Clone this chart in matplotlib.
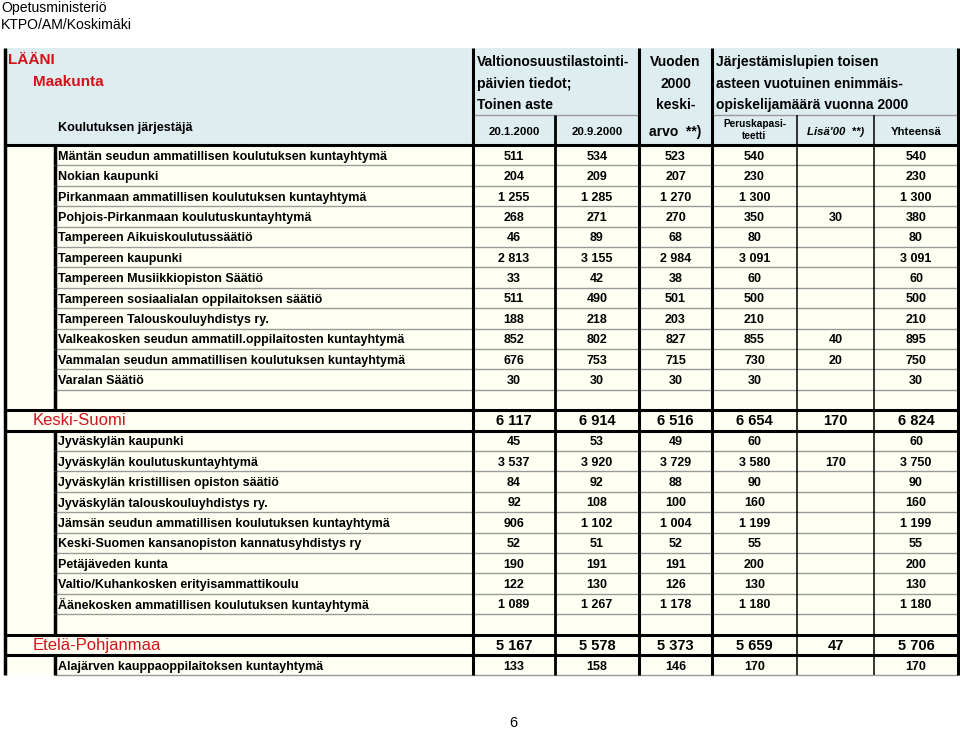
import matplotlib
matplotlib.use("Agg")
import matplotlib.pyplot as plt
from matplotlib.patches import Rectangle

plt.rcParams['font.family'] = ['Liberation Sans', 'DejaVu Sans']

# ---------------- data ----------------
header_page = ["Opetusministeriö", "KTPO/AM/Koskimäki"]
page_number = "6"

col_group1 = ["Valtionosuustilastointi-", "päivien tiedot;", "Toinen aste"]
col_group2 = ["Vuoden", "2000", "keski-"]
col_group3 = ["Järjestämislupien toisen", "asteen vuotuinen enimmäis-", "opiskelijamäärä vuonna 2000"]
sub_cols = ["20.1.2000", "20.9.2000", "arvo  **)", "Peruskapasi-\nteetti", "Lisä'00  **)", "Yhteensä"]

pirkanmaa_names = [
    "Mäntän seudun ammatillisen koulutuksen kuntayhtymä",
    "Nokian kaupunki",
    "Pirkanmaan ammatillisen koulutuksen kuntayhtymä",
    "Pohjois-Pirkanmaan koulutuskuntayhtymä",
    "Tampereen Aikuiskoulutussäätiö",
    "Tampereen kaupunki",
    "Tampereen Musiikkiopiston Säätiö",
    "Tampereen sosiaalialan oppilaitoksen säätiö",
    "Tampereen Talouskouluyhdistys ry.",
    "Valkeakosken seudun ammatill.oppilaitosten kuntayhtymä",
    "Vammalan seudun ammatillisen koulutuksen kuntayhtymä",
    "Varalan Säätiö",
]
pirkanmaa_jan = ["511", "204", "1 255", "268", "46", "2 813", "33", "511", "188", "852", "676", "30"]
pirkanmaa_sep = ["534", "209", "1 285", "271", "89", "3 155", "42", "490", "218", "802", "753", "30"]
pirkanmaa_avg = ["523", "207", "1 270", "270", "68", "2 984", "38", "501", "203", "827", "715", "30"]
pirkanmaa_base = ["540", "230", "1 300", "350", "80", "3 091", "60", "500", "210", "855", "730", "30"]
pirkanmaa_add = ["", "", "", "30", "", "", "", "", "", "40", "20", ""]
pirkanmaa_tot = ["540", "230", "1 300", "380", "80", "3 091", "60", "500", "210", "895", "750", "30"]

keski_title = "Keski-Suomi"
keski_summary = ["6 117", "6 914", "6 516", "6 654", "170", "6 824"]
keski_names = [
    "Jyväskylän kaupunki",
    "Jyväskylän koulutuskuntayhtymä",
    "Jyväskylän kristillisen opiston säätiö",
    "Jyväskylän talouskouluyhdistys ry.",
    "Jämsän seudun ammatillisen koulutuksen kuntayhtymä",
    "Keski-Suomen kansanopiston kannatusyhdistys ry",
    "Petäjäveden kunta",
    "Valtio/Kuhankosken erityisammattikoulu",
    "Äänekosken ammatillisen koulutuksen kuntayhtymä",
]
keski_jan = ["45", "3 537", "84", "92", "906", "52", "190", "122", "1 089"]
keski_sep = ["53", "3 920", "92", "108", "1 102", "51", "191", "130", "1 267"]
keski_avg = ["49", "3 729", "88", "100", "1 004", "52", "191", "126", "1 178"]
keski_base = ["60", "3 580", "90", "160", "1 199", "55", "200", "130", "1 180"]
keski_add = ["", "170", "", "", "", "", "", "", ""]
keski_tot = ["60", "3 750", "90", "160", "1 199", "55", "200", "130", "1 180"]

etela_title = "Etelä-Pohjanmaa"
etela_summary = ["5 167", "5 578", "5 373", "5 659", "47", "5 706"]
etela_names = ["Alajärven kauppaoppilaitoksen kuntayhtymä"]
etela_jan = ["133"]
etela_sep = ["158"]
etela_avg = ["146"]
etela_base = ["170"]
etela_add = [""]
etela_tot = ["170"]

# ---------------- build row list ----------------
rows = []  # (kind, label, values)
def add_section(names, cols):
    for i, n in enumerate(names):
        rows.append(("data", n, [c[i] for c in cols]))

add_section(pirkanmaa_names, [pirkanmaa_jan, pirkanmaa_sep, pirkanmaa_avg, pirkanmaa_base, pirkanmaa_add, pirkanmaa_tot])
rows.append(("blank", "", [""] * 6))
rows.append(("region", keski_title, keski_summary))
add_section(keski_names, [keski_jan, keski_sep, keski_avg, keski_base, keski_add, keski_tot])
rows.append(("blank", "", [""] * 6))
rows.append(("region", etela_title, etela_summary))
add_section(etela_names, [etela_jan, etela_sep, etela_avg, etela_base, etela_add, etela_tot])

# ---------------- layout ----------------
W, H = 960, 729
fig = plt.figure(figsize=(9.6, 7.29), dpi=100)
ax = fig.add_axes([0, 0, 1, 1])
ax.set_xlim(0, W)
ax.set_ylim(H, 0)
ax.axis('off')

RED = '#d2111b'
HEAD_BG = '#deedf0'
DATA_BG = '#fffff3'
GRID = '#9a9a9a'

xL, xIn = 5, 55
xc = [473, 555, 639, 712, 797, 874, 958]
centers = [(xc[i] + xc[i + 1]) / 2 for i in range(6)]
yTop, yHead, ySub = 48, 145, 115
rh = 20.4
yBot = yHead + rh * len(rows)

ax.add_patch(Rectangle((xL, yTop), xc[-1] - xL, yHead - yTop, facecolor=HEAD_BG, edgecolor='none', zorder=0))
ax.add_patch(Rectangle((xL, yHead), xc[-1] - xL, yBot - yHead, facecolor=DATA_BG, edgecolor='none', zorder=0))

def hline(y, x0, x1, lw, c):
    ax.plot([x0, x1], [y, y], color=c, lw=lw, solid_capstyle='butt', zorder=2)

def vline(x, y0, y1, lw, c='black'):
    ax.plot([x, x], [y0, y1], color=c, lw=lw, solid_capstyle='butt', zorder=3)

def txt(x, y, s, size, bold=True, ha='left', **kw):
    ax.text(x, y, s, fontsize=size, fontweight='bold' if bold else 'normal',
            va='baseline', ha=ha, **kw)

# page header texts
txt(1, 12, header_page[0], 10.1, bold=False)
txt(1, 29, header_page[1], 10.1, bold=False)
txt(513, 727, page_number, 10.5, bold=False, ha='center')

# table header
txt(8, 63.5, "LÄÄNI", 11, color=RED)
txt(33, 86, "Maakunta", 11, color=RED)
txt(58, 130.5, "Koulutuksen järjestäjä", 9.1)

hy = [65.5, 87.5, 108.5]
for i, t in enumerate(col_group1):
    txt(477, hy[i], t, 10)
for i, t in enumerate(col_group2):
    txt(centers[2], hy[i], t, 10, ha='center')
for i, t in enumerate(col_group3):
    txt(716, hy[i], t, 10)

txt(centers[0], 134.5, sub_cols[0], 8.2, ha='center')
txt(centers[1], 134.5, sub_cols[1], 8.2, ha='center')
txt(centers[2], 135.5, sub_cols[2], 10, ha='center')
ax.text(centers[3], 130, sub_cols[3], fontsize=7.3, fontweight='bold', va='center', ha='center', linespacing=1.15)
txt(centers[4], 134.5, sub_cols[4], 8.2, ha='center', fontstyle='italic')
txt(centers[5], 134.5, sub_cols[5], 8.2, ha='center')

# header lines
hline(ySub, xc[0], xc[2], 1.0, GRID)
hline(ySub, xc[3], xc[6], 1.0, GRID)
hline(yHead, xL, xc[-1], 2.2, 'black')
vline(xL, yTop, yBot, 2.5)
for x in [xc[0], xc[2], xc[3], xc[6]]:
    vline(x, yTop, yBot, 2.2)
vline(xc[1], ySub, yBot, 2.0)
vline(xc[4], ySub, yBot, 1.1)
vline(xc[5], ySub, yBot, 1.1)

# body
for i, (kind, label, vals) in enumerate(rows):
    y0 = yHead + i * rh
    y1 = y0 + rh
    yc = y0 + rh / 2
    if kind == "region":
        hline(y0, xL, xc[-1], 2.2, 'black')
        hline(y1, xL, xc[-1], 2.2, 'black')
        txt(33, yc + 4.8, label, 12, bold=False, color=RED)
        for j, v in enumerate(vals):
            txt(centers[j], yc + 4.8, v, 10.5, ha='center')
    else:
        vline(xIn, y0, y1, 2.5)
        if i + 1 == len(rows) or rows[i + 1][0] != "region":
            hline(y1, xIn, xc[-1], 1.0, GRID)
        txt(58, yc + 4.5, label, 9)
        for j, v in enumerate(vals):
            txt(centers[j], yc + 4.5, v, 9, ha='center')

fig.savefig("out.png", dpi=100)
